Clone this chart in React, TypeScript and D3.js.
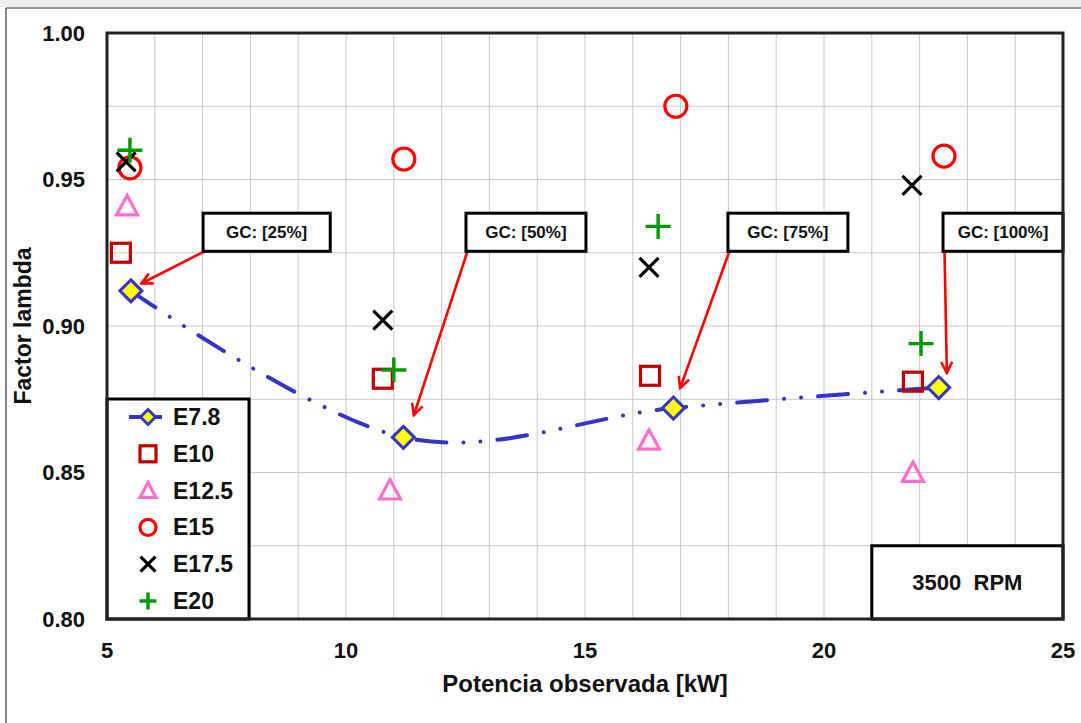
import * as d3 from 'd3';

// kW observed power, lambda factor per blend
const powerE78 = [5.5, 11.2, 16.85, 22.4];
const lambdaE78 = [0.912, 0.862, 0.872, 0.879];
const powerE10 = [5.29, 10.77, 16.36, 21.86];
const lambdaE10 = [0.925, 0.882, 0.883, 0.881];
const powerE125 = [5.42, 10.92, 16.34, 21.86];
const lambdaE125 = [0.941, 0.844, 0.861, 0.850];
const powerE15 = [5.48, 11.21, 16.9, 22.51];
const lambdaE15 = [0.954, 0.957, 0.975, 0.958];
const powerE175 = [5.4, 10.77, 16.34, 21.84];
const lambdaE175 = [0.956, 0.902, 0.920, 0.948];
const powerE20 = [5.48, 11.0, 16.53, 22.03];
const lambdaE20 = [0.960, 0.885, 0.934, 0.894];

const seriesNames = ['E7.8', 'E10', 'E12.5', 'E15', 'E17.5', 'E20'];

const xTicks = [5, 10, 15, 20, 25];
const yTicks = [0.8, 0.85, 0.9, 0.95, 1.0];

// GC annotation boxes and where their arrows point
const gcLabels = ['GC: [25%]', 'GC: [50%]', 'GC: [75%]', 'GC: [100%]'];
const gcBoxLeft = [7.01, 12.51, 17.99, 22.49];
const gcBoxRight = [9.67, 15.02, 20.5, 25.0];
const gcBoxTop = 0.9385;
const gcBoxBottom = 0.9255;
const gcArrowTipX = [5.72, 11.42, 16.99, 22.57];
const gcArrowTipY = [0.9145, 0.8696, 0.8788, 0.884];

const rpmLabel = '3500  RPM';

type Shape = 'diamond' | 'square' | 'triangle' | 'circle' | 'cross' | 'plus';

function Marker({ shape, x, y, s }: { shape: Shape; x: number; y: number; s: number }) {
  const h = s / 2;
  switch (shape) {
    case 'diamond':
      return (
        <path
          d={`M${x},${y - h}L${x + h},${y}L${x},${y + h}L${x - h},${y}Z`}
          fill="#FFFF00"
          stroke="#3535C8"
          strokeWidth={3}
        />
      );
    case 'square':
      return (
        <rect x={x - h} y={y - h} width={s} height={s} fill="none" stroke="#C00000" strokeWidth={3.2} />
      );
    case 'triangle':
      return (
        <path
          d={`M${x},${y - h}L${x + h},${y + h * 0.85}L${x - h},${y + h * 0.85}Z`}
          fill="none"
          stroke="#FF6FCF"
          strokeWidth={3.2}
        />
      );
    case 'circle':
      return <circle cx={x} cy={y} r={h} fill="none" stroke="#FF0000" strokeWidth={3.2} />;
    case 'cross':
      return (
        <path
          d={`M${x - h},${y - h}L${x + h},${y + h}M${x - h},${y + h}L${x + h},${y - h}`}
          stroke="#000"
          strokeWidth={3.2}
        />
      );
    default:
      return (
        <path d={`M${x - h},${y}L${x + h},${y}M${x},${y - h}L${x},${y + h}`} stroke="#009A00" strokeWidth={3.4} />
      );
  }
}

export default function App() {
  const width = 1081;
  const height = 723;
  const margin = { top: 33, right: 18, bottom: 104, left: 107 };
  const chartWidth = width - margin.left - margin.right;
  const chartHeight = height - margin.top - margin.bottom;
  const font = "'Liberation Sans', Arial, sans-serif";

  const xScale = d3.scaleLinear().domain([5, 25]).range([0, chartWidth]);
  const yScale = d3.scaleLinear().domain([0.8, 1.0]).range([chartHeight, 0]);

  const xGrid = d3.range(5, 25.001, 1);
  const yGrid = d3.range(0.8, 1.0001, 0.025);

  const scatter: Array<{ shape: Shape; xs: number[]; ys: number[]; size: number }> = [
    { shape: 'square', xs: powerE10, ys: lambdaE10, size: 19 },
    { shape: 'triangle', xs: powerE125, ys: lambdaE125, size: 21 },
    { shape: 'circle', xs: powerE15, ys: lambdaE15, size: 22 },
    { shape: 'cross', xs: powerE175, ys: lambdaE175, size: 19 },
    { shape: 'plus', xs: powerE20, ys: lambdaE20, size: 25 },
  ];
  const legendShapes: Shape[] = ['diamond', 'square', 'triangle', 'circle', 'cross', 'plus'];

  const line = d3
    .line<number>()
    .x((d, i) => xScale(powerE78[i]))
    .y((d) => yScale(d))
    .curve(d3.curveCardinal.tension(0));

  const fmt = d3.format('.2f');

  return (
    <div style={{ position: 'absolute', left: 0, top: 0 }}>
      <svg width={width} height={height} style={{ display: 'block', background: '#fff' }} fontFamily={font}>
        <defs>
          <marker
            id="gcArrow"
            viewBox="0 0 14 14"
            refX={12}
            refY={7}
            markerWidth={14}
            markerHeight={14}
            markerUnits="userSpaceOnUse"
            orient="auto"
          >
            <path d="M1,1.5L12,7L1,12.5" fill="none" stroke="#FF0000" strokeWidth={2.6} />
          </marker>
        </defs>

        {/* faint strip and outer frame */}
        <rect x={0} y={0} width={width} height={7} fill="#efefef" />
        <line x1={6} y1={8} x2={width} y2={8} stroke="#333" strokeWidth={1.2} />
        <line x1={6} y1={8} x2={6} y2={height} stroke="#333" strokeWidth={1.2} />

        <g transform={`translate(${margin.left},${margin.top})`}>
          {/* grid */}
          {xGrid.map((t, i) => (
            <line key={`gx${i}`} x1={xScale(t)} x2={xScale(t)} y1={0} y2={chartHeight} stroke="#C8C8C8" strokeWidth={1} />
          ))}
          {yGrid.map((t, i) => (
            <line key={`gy${i}`} x1={0} x2={chartWidth} y1={yScale(t)} y2={yScale(t)} stroke="#C8C8C8" strokeWidth={1} />
          ))}

          {/* E7.8 smoothed line */}
          <path
            d={line(lambdaE78) || ''}
            fill="none"
            stroke="#3535C8"
            strokeWidth={4}
            strokeLinecap="round"
            strokeDasharray="30 17 0.01 17 0.01 17"
          />

          {/* scatter series */}
          {scatter.map((s, si) =>
            s.xs.map((xv, i) => (
              <Marker key={`s${si}-${i}`} shape={s.shape} x={xScale(xv)} y={yScale(s.ys[i])} s={s.size} />
            ))
          )}
          {powerE78.map((xv, i) => (
            <Marker key={`d${i}`} shape="diamond" x={xScale(xv)} y={yScale(lambdaE78[i])} s={22} />
          ))}

          {/* GC annotations */}
          {gcLabels.map((label, i) => {
            const x0 = xScale(gcBoxLeft[i]);
            const x1 = xScale(gcBoxRight[i]);
            const y0 = yScale(gcBoxTop);
            const y1 = yScale(gcBoxBottom);
            return (
              <g key={`gc${i}`}>
                <line
                  x1={x0 + 1.5}
                  y1={y1}
                  x2={xScale(gcArrowTipX[i])}
                  y2={yScale(gcArrowTipY[i])}
                  stroke="#FF0000"
                  strokeWidth={2.6}
                  markerEnd="url(#gcArrow)"
                />
                <rect x={x0} y={y0} width={x1 - x0} height={y1 - y0} fill="#fff" stroke="#000" strokeWidth={3} />
                <text
                  x={(x0 + x1) / 2}
                  y={(y0 + y1) / 2}
                  textAnchor="middle"
                  dominantBaseline="central"
                  fontSize={17}
                  fontWeight="bold"
                  fill="#111"
                >
                  {label}
                </text>
              </g>
            );
          })}

          {/* RPM box */}
          <rect
            x={xScale(21)}
            y={yScale(0.825)}
            width={xScale(25) - xScale(21)}
            height={yScale(0.8) - yScale(0.825)}
            fill="#fff"
            stroke="#000"
            strokeWidth={3}
          />
          <text
            x={(xScale(21) + xScale(25)) / 2}
            y={(yScale(0.825) + yScale(0.8)) / 2}
            textAnchor="middle"
            dominantBaseline="central"
            fontSize={22}
            fontWeight="bold"
            fill="#111"
            style={{ whiteSpace: 'pre' }}
          >
            {rpmLabel}
          </text>

          {/* legend */}
          <g transform={`translate(0,${chartHeight - 220})`}>
            <rect x={0} y={0} width={142} height={220} fill="#fff" stroke="#000" strokeWidth={3} />
            {seriesNames.map((name, i) => {
              const cy = 18 + i * 36.8;
              return (
                <g key={`lg${i}`}>
                  {i === 0 && <line x1={22} x2={55} y1={cy} y2={cy} stroke="#3535C8" strokeWidth={4} />}
                  <Marker shape={legendShapes[i]} x={41} y={cy} s={i === 0 ? 15 : i === 4 ? 15 : i === 5 ? 17 : 16} />
                  <text x={66} y={cy} dominantBaseline="central" fontSize={23} fontWeight="bold" fill="#111">
                    {name}
                  </text>
                </g>
              );
            })}
          </g>

          {/* plot border */}
          <rect x={0} y={0} width={chartWidth} height={chartHeight} fill="none" stroke="#222" strokeWidth={3} />

          {/* X axis labels */}
          {xTicks.map((t, i) => (
            <text key={`xt${i}`} x={xScale(t)} y={chartHeight + 39} textAnchor="middle" fontSize={22} fontWeight="bold" fill="#111">
              {t}
            </text>
          ))}
          <text x={chartWidth / 2} y={chartHeight + 73} textAnchor="middle" fontSize={24} fontWeight="bold" fill="#111">
            Potencia observada [kW]
          </text>

          {/* Y axis labels */}
          {yTicks.map((t, i) => (
            <text
              key={`yt${i}`}
              x={-22}
              y={yScale(t)}
              textAnchor="end"
              dominantBaseline="central"
              fontSize={22}
              fontWeight="bold"
              fill="#111"
            >
              {fmt(t)}
            </text>
          ))}
        </g>
        <text
          transform={`translate(31,${margin.top + chartHeight / 2}) rotate(-90)`}
          textAnchor="middle"
          fontSize={23}
          fontWeight="bold"
          fill="#111"
        >
          Factor lambda
        </text>
      </svg>
    </div>
  );
}
